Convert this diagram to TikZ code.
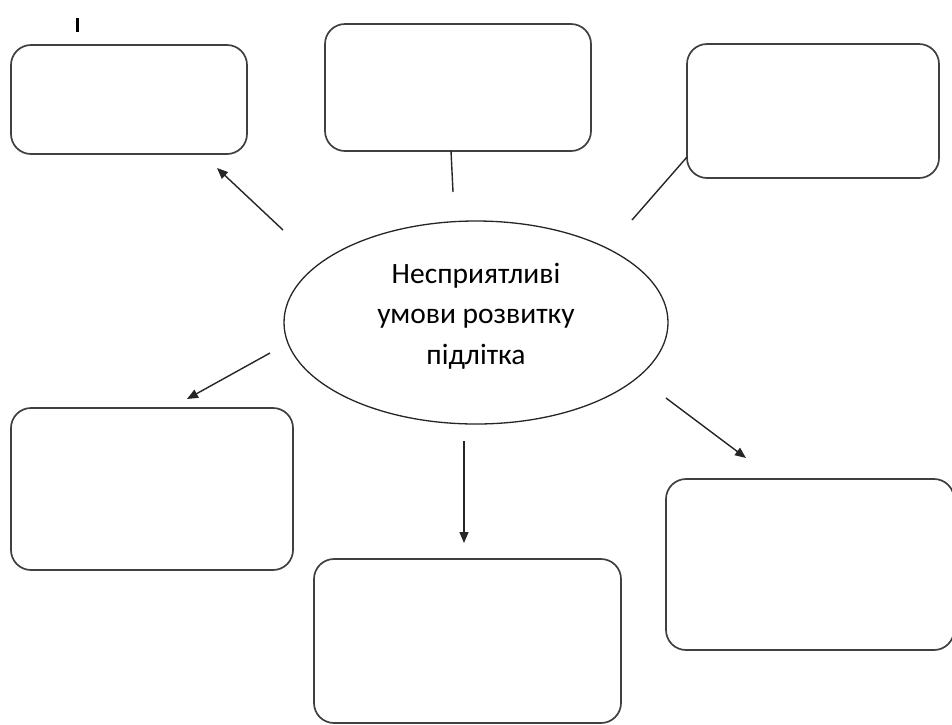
\documentclass[tikz,border=0pt]{standalone}
\usepackage{fontspec}
\setmainfont{Carlito}
\usetikzlibrary{arrows.meta}
\begin{document}
\begin{tikzpicture}[x=1pt,y=-1pt,
  box/.style={draw=black!75,line width=1.7pt,rounded corners=20pt},
  conn/.style={draw=black!85,line width=1.4pt},
  arr/.style={conn,-{Triangle[length=11pt,width=9pt]}},
  mainell/.style={draw=black!85,line width=1.3pt}]
\useasboundingbox (0,0) rectangle (952,724);
\clip (0,0) rectangle (952,724);
\fill[white] (0,0) rectangle (952,724);
% boxes
\draw[box] (11,45) rectangle (247,154) node[midway] (tl) {};
\draw[box] (325,24) rectangle (591,151) node[midway] (tc) {};
\draw[box] (687,44) rectangle (939,178) node[midway] (tr) {};
\draw[box] (11,408) rectangle (293,570) node[midway] (ml) {};
\draw[box] (314,559) rectangle (621,723) node[midway] (bc) {};
\draw[box] (666,479) rectangle (954,650) node[midway] (br) {};
% ellipse
\draw[mainell] (476,322.5) ellipse [x radius=192, y radius=101.5];
\node[align=center,font=\fontsize{29.5}{40.5}\selectfont] (c) at (476,316)
  {Несприятливі\\умови розвитку\\підлітка};
% stray mark
\draw[line width=3pt] (77,18) -- (77,32);
% connector end points
\coordinate (a1s) at (283,230); \coordinate (a1e) at (217,168);
\coordinate (l2s) at (453,192); \coordinate (l2e) at (451,151);
\coordinate (l3s) at (632,220); \coordinate (l3e) at (687,157);
\coordinate (a4s) at (270,353); \coordinate (a4e) at (187,399);
\coordinate (a5s) at (464,441); \coordinate (a5e) at (464,543);
\coordinate (a6s) at (666,398); \coordinate (a6e) at (746,458);
\draw[arr] (a1s) -- (a1e);
\draw[conn] (l2s) -- (l2e);
\draw[conn] (l3s) -- (l3e);
\draw[arr] (a4s) -- (a4e);
\draw[arr] (a5s) -- (a5e);
\draw[arr] (a6s) -- (a6e);
\end{tikzpicture}
\end{document}
